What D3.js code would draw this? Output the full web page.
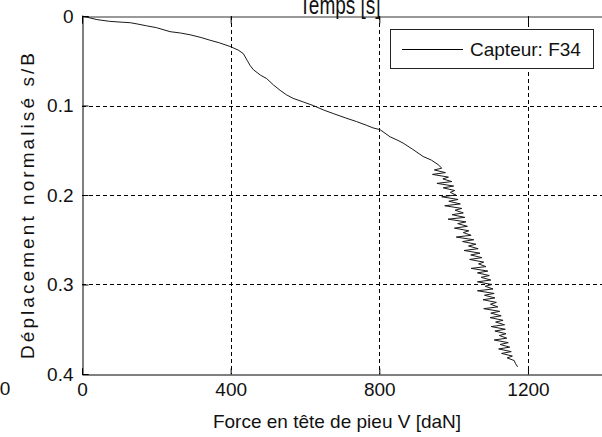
<!DOCTYPE html>
<html><head><meta charset="utf-8">
<script src="https://cdn.jsdelivr.net/npm/d3@7"></script>
<style>body{margin:0;background:#fff}svg{display:block}text{font-family:"Liberation Sans",Arial,sans-serif;fill:#111}</style>
</head><body>
<svg id="c" width="602" height="437"></svg>
<script>
const xTicks = [0, 400, 800, 1200];
const yTicks = [0, 0.1, 0.2, 0.3, 0.4];
const seriesName = "Capteur: F34";
const force = [0,10,40,75,110,130,150,174,200,237,265,291,320,344,370,398,420,434,445,452,461,480,497,515,533,550,568,595,622,650,676,710,739,765,783,802,829,850,864,890,918,940,958,
968,948,978,943,986,971,995,955,1000,972,1003,991,1006,968,1012,987,1018,976,1022,1004,1026,996,1030,985,1033,1011,1037,1002,1041,1026,1047,1007,1054,1024,1060,1040,1066,1028,1071,1046,1076,1043,1081,1067,1087,1047,1092,1064,1096,1074,1100,1064,1103,1085,1106,1064,1109,1083,1111,1079,1115,1099,1119,1081,1124,1100,1128,1098,1133,1113,1137,1101,1139,1111,1141,1123,1143,1109,1147,1125,1151,1121,1155,1129,1158,1144,1163,1166,1172];
const disp = [0,0.001,0.004,0.006,0.007,0.0075,0.009,0.011,0.013,0.0175,0.019,0.021,0.024,0.027,0.030,0.034,0.038,0.042,0.050,0.055,0.060,0.066,0.070,0.077,0.083,0.088,0.092,0.096,0.100,0.105,0.109,0.114,0.118,0.122,0.125,0.127,0.135,0.139,0.142,0.149,0.157,0.161,0.166,
0.170,0.172,0.175,0.177,0.180,0.182,0.185,0.187,0.190,0.192,0.195,0.197,0.200,0.202,0.205,0.207,0.210,0.212,0.215,0.217,0.220,0.222,0.225,0.227,0.230,0.232,0.235,0.237,0.240,0.242,0.245,0.247,0.250,0.252,0.255,0.257,0.260,0.262,0.265,0.267,0.270,0.272,0.275,0.277,0.280,0.282,0.285,0.287,0.290,0.292,0.295,0.297,0.300,0.302,0.305,0.307,0.310,0.312,0.315,0.317,0.320,0.322,0.325,0.327,0.330,0.332,0.335,0.337,0.340,0.342,0.345,0.347,0.350,0.352,0.355,0.357,0.360,0.362,0.365,0.367,0.370,0.372,0.375,0.377,0.380,0.382,0.385,0.388,0.392];

const L = 82, R = 602.3, T = 16, B = 374;
const x = d3.scaleLinear().domain([0, 1400]).range([L, R]);
const y = d3.scaleLinear().domain([0, 0.4]).range([T, B]);
const svg = d3.select("#c");
const FS = "19px";

// grid
const g = svg.append("g");
g.selectAll(".gx").data(xTicks.filter(d => d > 0)).enter().append("line")
  .attr("x1", d => Math.round(x(d)) + 0.5).attr("x2", d => Math.round(x(d)) + 0.5)
  .attr("y1", T).attr("y2", B).attr("stroke", "#000").attr("stroke-width", 1).attr("stroke-dasharray", "4,3");
g.selectAll(".gy").data(yTicks.filter(d => d > 0 && d < 0.4)).enter().append("line")
  .attr("y1", d => Math.round(y(d)) + 0.5).attr("y2", d => Math.round(y(d)) + 0.5)
  .attr("x1", L).attr("x2", 602).attr("stroke", "#000").attr("stroke-width", 1).attr("stroke-dasharray", "4,3");

// top border with inward ticks
const topAx = svg.append("g").attr("transform", `translate(0,${T + 0.5})`)
  .call(d3.axisTop(x).tickValues(xTicks).tickSize(-7).tickFormat(""));
topAx.select(".domain").attr("stroke", "#333");
topAx.selectAll(".tick line").attr("stroke", "#000");

// data line
const line = d3.line().x((d, i) => x(force[i])).y((d, i) => y(disp[i]));
svg.append("path").datum(force).attr("d", line).attr("fill", "none").attr("stroke", "#1a1a1a").attr("stroke-width", 1);

// axes
const ax = svg.append("g").attr("transform", `translate(0,${B + 0.5})`)
  .call(d3.axisBottom(x).tickValues(xTicks).tickSize(-6).tickPadding(8).tickFormat(d3.format("d")));
const ay = svg.append("g").attr("transform", `translate(${L + 0.5},0)`)
  .call(d3.axisLeft(y).tickValues(yTicks).tickSize(-6).tickPadding(9).tickFormat(d => d === 0 ? "0" : d3.format(".1f")(d)));
[ax, ay].forEach(a => {
  a.select(".domain").attr("stroke", "#000");
  a.selectAll(".tick line").attr("stroke", "#000");
  a.selectAll("text").style("font-size", FS).attr("fill", "#111");
});

// stray label of a hidden axis
svg.append("text").attr("x", 5).attr("y", B + 8).attr("dy", "0.71em").attr("text-anchor", "middle").style("font-size", FS).text("0");

// titles
svg.append("text").attr("transform", "translate(340,14) scale(1,1.35)").attr("text-anchor", "middle").style("font-size", FS).text("Temps [s]");
svg.append("text").attr("x", 337).attr("y", 428).attr("text-anchor", "middle").style("font-size", FS).text("Force en tête de pieu V [daN]");
svg.append("text").attr("transform", "translate(34,206) rotate(-90)").attr("text-anchor", "middle")
  .attr("textLength", 306).attr("lengthAdjust", "spacing").style("font-size", FS).text("Déplacement normalisé s/B");

// legend
const lg = svg.append("g");
lg.append("rect").attr("x", 390.5).attr("y", 29.5).attr("width", 203).attr("height", 39).attr("fill", "#fff").attr("stroke", "#222");
lg.append("line").attr("x1", 402).attr("x2", 463).attr("y1", 49.5).attr("y2", 49.5).attr("stroke", "#000");
lg.append("text").attr("x", 470).attr("y", 49).attr("dy", "0.35em").style("font-size", FS).text(seriesName);
</script>
</body></html>
